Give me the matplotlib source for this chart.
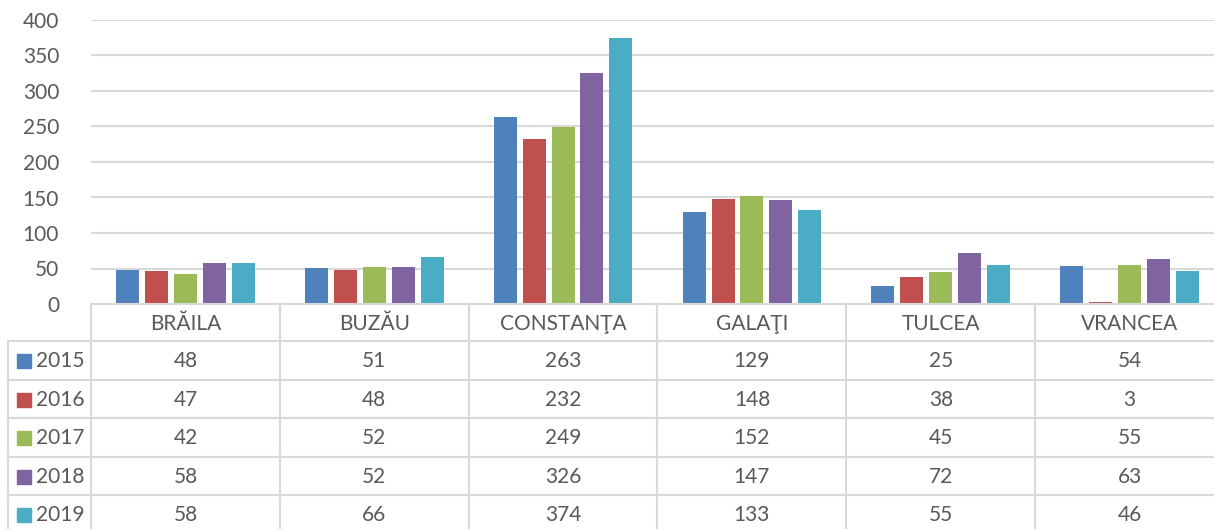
import matplotlib.pyplot as plt
import numpy as np

# judete si ani
judete = ["BRĂILA", "BUZĂU", "CONSTANŢA", "GALAŢI", "TULCEA", "VRANCEA"]
ani = ["2015", "2016", "2017", "2018", "2019"]

v2015 = [48, 51, 263, 129, 25, 54]
v2016 = [47, 48, 232, 148, 38, 3]
v2017 = [42, 52, 249, 152, 45, 55]
v2018 = [58, 52, 326, 147, 72, 63]
v2019 = [58, 66, 374, 133, 55, 46]
serii = [v2015, v2016, v2017, v2018, v2019]

culori = ["#4F81BD", "#C0504D", "#9BBB59", "#8064A2", "#4BACC6"]
text_col = "#595959"
grid_col = "#D9D9D9"

plt.rcParams["font.family"] = ["Lato", "DejaVu Sans"]

W, H = 1214, 529
fig = plt.figure(figsize=(W / 100, H / 100), dpi=100)

# zona graficului (in pixeli), extinsa putin peste marginea din dreapta
x0, x1 = 91, 1224
y_top, y_zero = 20, 304
ax = fig.add_axes([x0 / W, (H - y_zero) / H, (x1 - x0) / W, (y_zero - y_top) / H])

x = np.arange(len(judete))
pas = 0.153
latime = 0.122
for i, (an, vals, c) in enumerate(zip(ani, serii, culori)):
    ax.bar(x + (i - 2) * pas, vals, width=latime, color=c, zorder=3)

ax.set_xlim(-0.5, len(judete) - 0.5)
ax.set_ylim(0, 400)
ax.set_yticks(range(0, 401, 50))
ax.tick_params(axis="y", length=0, pad=23, labelsize=15, labelcolor=text_col)
ax.set_xticks([])
ax.grid(axis="y", color=grid_col, linewidth=1.5, zorder=0)
for s in ["top", "right", "left", "bottom"]:
    ax.spines[s].set_visible(False)

# tabelul de date sub grafic
row_lines = [304, 341, 379.5, 418, 456.5, 495, 533.5]
tab = fig.add_axes([x0 / W, (H - row_lines[-1]) / H, (x1 - x0) / W, (row_lines[-1] - row_lines[0]) / H])
tab.set_xlim(-0.5, len(judete) - 0.5)
tab.set_ylim(row_lines[-1], row_lines[0])
tab.axis("off")

col_px = (x1 - x0) / len(judete)
x_left = -0.5 - (x0 - 8) / col_px

lw = 1.5
# linia axei si liniile orizontale
tab.plot([-0.5, len(judete) - 0.5], [row_lines[0]] * 2, color=grid_col, lw=lw, clip_on=False)
for yl in row_lines[1:]:
    tab.plot([x_left, len(judete) - 0.5], [yl, yl], color=grid_col, lw=lw, clip_on=False)
# linii verticale
for k in range(len(judete) + 1):
    xv = -0.5 + k
    tab.plot([xv, xv], [row_lines[0], row_lines[-1]], color=grid_col, lw=lw, clip_on=False)
tab.plot([x_left, x_left], [row_lines[1], row_lines[-1]], color=grid_col, lw=lw, clip_on=False)

# antet cu judetele
for j, nume in enumerate(judete):
    tab.text(j, (row_lines[0] + row_lines[1]) / 2 + 1, nume, ha="center", va="center",
             fontsize=15, color=text_col)

# randurile cu valori si cheia de legenda
sq = 14 / col_px
for i, (an, vals, c) in enumerate(zip(ani, serii, culori)):
    yc = (row_lines[i + 1] + row_lines[i + 2]) / 2 + 1
    x_sq = -0.5 - (x0 - 17) / col_px
    tab.add_patch(plt.Rectangle((x_sq, yc - 7), sq, 14, color=c, clip_on=False))
    tab.text(-0.5 - (x0 - 36) / col_px, yc, an, ha="left", va="center",
             fontsize=15, color=text_col)
    for j, v in enumerate(vals):
        tab.text(j, yc, str(v), ha="center", va="center", fontsize=15, color=text_col)

fig.savefig("out.png", dpi=100)
